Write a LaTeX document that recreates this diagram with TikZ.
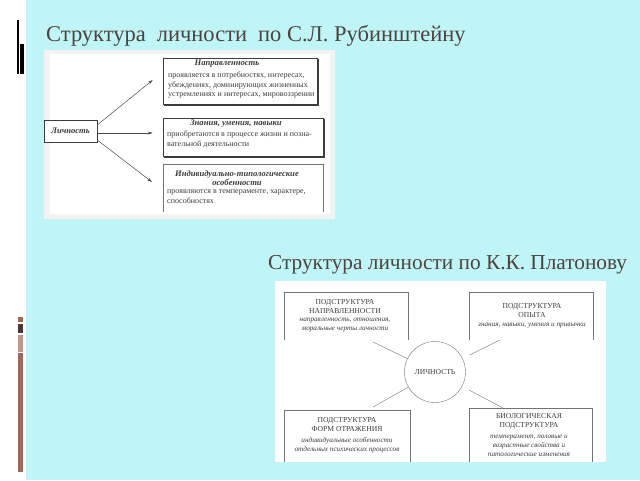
\documentclass[tikz,border=0pt]{standalone}
\usepackage{fontspec}
\setmainfont{Liberation Serif}
\usetikzlibrary{arrows.meta,positioning}

\definecolor{slide}{RGB}{192,245,248}
\definecolor{titl}{RGB}{76,66,62}
\definecolor{brn}{RGB}{163,103,88}
\definecolor{brnd}{RGB}{70,56,50}
\definecolor{brnl}{RGB}{194,148,140}
\definecolor{pic}{RGB}{243,243,243}
\definecolor{ink}{RGB}{60,60,60}

\tikzset{
  titletext/.style={anchor=base west, text=titl, inner sep=0pt,
    font=\fontsize{21.3}{25}\selectfont},
  headtext/.style={font=\fontsize{8.6}{9}\selectfont\bfseries\itshape,
    align=center, inner sep=0pt, text=ink},
  bodytext/.style={font=\fontsize{8}{9.3}\selectfont, align=left,
    inner sep=0pt, anchor=north west, text=ink},
  captext/.style={font=\fontsize{7.6}{9}\selectfont, align=center,
    inner sep=0pt, anchor=north, text=ink},
  itext/.style={font=\fontsize{7.2}{9}\selectfont\itshape, align=center,
    inner sep=0pt, anchor=north, text=ink},
  rbox/.style={draw=ink, fill=white, line width=0.5pt},
  shadowline/.style={line width=1.3pt, draw=black!75},
  arr/.style={draw=black!70, line width=0.5pt,
    -{Stealth[length=5pt,width=3pt]}},
  frame/.style={draw=black!55, line width=0.45pt},
  spoke/.style={draw=black!50, line width=0.45pt}
}

\begin{document}
\begin{tikzpicture}[x=1pt, y=-1pt]
  \useasboundingbox (0,0) rectangle (640,480);
  \fill[white] (0,0) rectangle (640,480);
  \fill[slide] (26,0) rectangle (640,480);

  % side marks
  \fill[black] (17,20) rectangle (18.5,74);
  \fill[black] (20,44) rectangle (24,74);
  \fill[brn] (17.5,317) rectangle (23,322);
  \fill[brnd] (17.5,324) rectangle (23,333);
  \fill[brnl] (17.5,335) rectangle (23,352);
  \fill[brn] (17.5,353) rectangle (23,472);

  % titles
  \node[titletext, font=\fontsize{22.5}{25}\selectfont] (t1) at (46,41)
    {Структура\hspace{11pt}личности\hspace{11pt}по С.Л. Рубинштейну};
  \node[titletext] (t2) at (268,269) {Структура личности по К.К. Платонову};

  % --- picture 1
  \fill[pic] (44,50) rectangle (335,219);
  \fill[white] (50,54) rectangle (330,214);

  \node[rbox, minimum width=53, minimum height=22] (lich) at (70.5,131) {};
  \node[headtext] at (lich) {Личность};

  \draw[shadowline] (318,59) -- (318,105) -- (164,105);
  \node[rbox, minimum width=154, minimum height=46] (nap) at (240,81) {};
  \draw[shadowline] (324,119) -- (324,157) -- (164,157);
  \node[rbox, minimum width=160, minimum height=38] (zun) at (243,137) {};
  \draw[frame] (163,212) -- (163,164) -- (323,164) -- (323,212);
  \coordinate (ind) at (163,188);

  \node[headtext] (napH) at (227,64) {Направленность};
  \node[bodytext] (napT) at (168,72) {проявляется в потребностях, интересах,\\
    убеждениях, доминирующих жизненных\\
    устремлениях и интересах, мировоззрении};

  \node[headtext] (zunH) at (236,124) {Знания, умения, навыки};
  \node[bodytext] (zunT) at (167,131) {приобретаются в процессе жизни и позна-\\
    вательной деятельности};

  \node[headtext] (indH) at (237,178) {Индивидуально-типологические\\особенности};
  \node[bodytext] (indT) at (167,190) {проявляются в темпераменте, характере,\\
    способностях};

  \draw[arr] ([yshift=6pt]lich.east) -- ([xshift=-10pt]nap.west |- 0,80);
  \draw[arr] ([yshift=-2pt]lich.east) -- ([xshift=-10pt]zun.west |- 0,133);
  \draw[arr] ([yshift=-9pt]lich.east) -- ([xshift=-11pt]ind |- 0,182);

  % --- picture 2
  \fill[white] (275,281) rectangle (606,462);

  \draw[frame] (284,340) -- (284,292) -- (408,292) -- (408,340);
  \draw[frame] (469,340) -- (469,292) -- (593,292) -- (593,340);
  \draw[frame] (284,462) -- (284,410) -- (410,410) -- (410,462);
  \draw[frame] (469,462) -- (469,408) -- (592,408) -- (592,462);

  \node[captext] (napr) at (345,299) {ПОДСТРУКТУРА\\НАПРАВЛЕННОСТИ};
  \node[itext] (naprT) at (345,317.5) {направленность, отношения,\\моральные черты личности};

  \node[captext] (opyt) at (532,303) {ПОДСТРУКТУРА\\ОПЫТА};
  \node[itext] (opytT) at (532,322.5) {знания, навыки, умения и привычки};

  \node[captext] (form) at (347,417) {ПОДСТРУКТУРА\\ФОРМ ОТРАЖЕНИЯ};
  \node[itext] (formT) at (347,437.5) {индивидуальные особенности\\отдельных психических процессов};

  \node[captext] (bio) at (529,413) {БИОЛОГИЧЕСКАЯ\\ПОДСТРУКТУРА};
  \node[itext] (bioT) at (529,434.5) {темперамент, половые и\\возрастные свойства и\\патологические изменения};

  \node[circle, draw=black!50, line width=0.45pt, minimum size=61pt,
    font=\fontsize{7.6}{8}\selectfont, text=ink] (circ) at (435,372) {ЛИЧНОСТЬ};

  \coordinate (sTL) at (373,342);
  \coordinate (sTR) at (500,340);
  \coordinate (sBL) at (373,407);
  \coordinate (sBR) at (503,408);
  \draw[spoke] (circ) -- (sTL);
  \draw[spoke, shorten <=8pt] (circ) -- (sTR);
  \draw[spoke] (circ) -- (sBL);
  \draw[spoke, shorten <=8pt] (circ) -- (sBR);
\end{tikzpicture}
\end{document}
